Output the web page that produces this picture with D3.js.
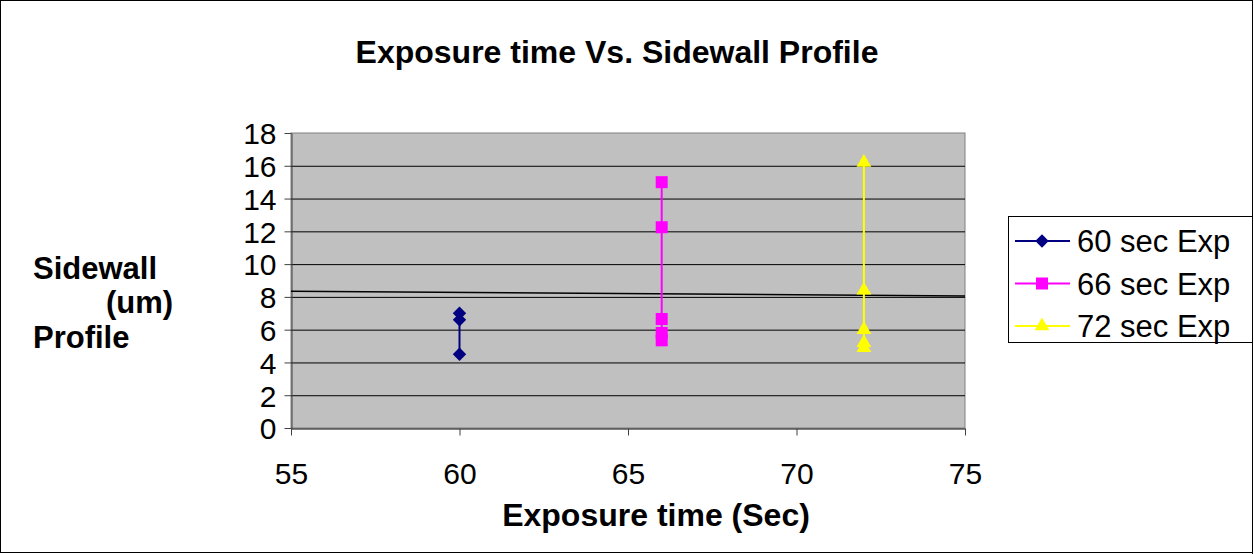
<!DOCTYPE html>
<html>
<head>
<meta charset="utf-8">
<script src="https://cdn.jsdelivr.net/npm/d3@7"></script>
<style>
	body { margin: 0; background: #fff; }
	svg { display: block; font-family: "Liberation Sans", Arial, sans-serif; }
</style>
</head>
<body>
<div id="chart"><svg width="1254" height="554"></svg></div>
<script>
// data
var seriesNames = ['60 sec Exp', '66 sec Exp', '72 sec Exp'];
var exposure = [60, 66, 72];
var profile60 = [7.0, 6.6, 4.5];
var profile66 = [15.0, 12.25, 6.65, 5.8, 5.35];
var profile72 = [16.2, 8.4, 6.0, 5.2, 4.9];
var trendX = [55, 75];
var trendY = [8.35, 8.05];
var xTicks = [55, 60, 65, 70, 75];
var yTicks = [0, 2, 4, 6, 8, 10, 12, 14, 16, 18];
var colors = ['#000080', '#ff00ff', '#ffff00'];
var shapes = ['diamond', 'square', 'triangle'];

var series = [profile60, profile66, profile72].map(function(vals, i) {
	return {
		name: seriesNames[i],
		color: colors[i],
		shape: shapes[i],
		points: vals.map(function(v) { return { x: exposure[i], y: v }; })
	};
});

// marker path + rotation per shape
function markPath(shape) {
	if (shape === 'diamond') return d3.symbol().type(d3.symbolSquare).size(90)();
	if (shape === 'square') return d3.symbol().type(d3.symbolSquare).size(144)();
	return d3.symbol().type(d3.symbolTriangle).size(95)();
}
function markRot(shape) { return shape === 'diamond' ? ' rotate(45)' : ''; }

var svg = d3.select('#chart > svg');
var plot = { left: 291, right: 965, top: 133, bottom: 428 };

var xScale = d3.scaleLinear().domain([55, 75]).range([plot.left, plot.right]);
var yScale = d3.scaleLinear().domain([0, 18]).range([plot.bottom, plot.top]);

// outer frame
svg.append('rect')
	.attr('x', 0.5).attr('y', 0.5)
	.attr('width', 1252).attr('height', 552)
	.attr('fill', '#fff').attr('stroke', '#000');

function label(x, y, txt, size, bold, anchor) {
	return svg.append('text')
		.attr('x', x).attr('y', y)
		.attr('text-anchor', anchor || 'start')
		.style('font-size', size + 'px')
		.style('font-weight', bold ? 'bold' : 'normal')
		.attr('fill', '#000')
		.text(txt);
}

// plot background
svg.append('rect')
	.attr('x', plot.left).attr('y', plot.top)
	.attr('width', plot.right - plot.left).attr('height', plot.bottom - plot.top)
	.attr('fill', '#c0c0c0').attr('stroke', '#808080');

// grid
svg.append('g').selectAll('line')
	.data(yTicks.filter(function(d) { return d > 0 && d < 18; }))
	.enter().append('line')
	.attr('x1', plot.left).attr('x2', plot.right)
	.attr('y1', function(d) { return yScale(d) + 0.5; })
	.attr('y2', function(d) { return yScale(d) + 0.5; })
	.attr('stroke', '#000').attr('stroke-width', 1);

// axes
var yAxis = svg.append('g')
	.attr('transform', 'translate(' + (plot.left + 0.5) + ',0)')
	.call(d3.axisLeft(yScale).tickValues(yTicks).tickSize(7).tickSizeOuter(0).tickPadding(8));
yAxis.select('.domain').attr('stroke', '#404040');
yAxis.selectAll('.tick line').attr('stroke', '#404040');
yAxis.selectAll('.tick text')
	.attr('dy', '0.36em')
	.style('font-size', '30px').style('font-family', '"Liberation Sans", Arial, sans-serif')
	.attr('fill', '#000');

var xAxis = svg.append('g')
	.attr('transform', 'translate(0,' + (plot.bottom + 0.5) + ')')
	.call(d3.axisBottom(xScale).tickValues(xTicks).tickSize(7).tickSizeOuter(0).tickPadding(27));
xAxis.select('.domain').attr('stroke', '#000');
xAxis.selectAll('.tick line').attr('stroke', '#404040');
xAxis.selectAll('.tick text')
	.style('font-size', '30px').style('font-family', '"Liberation Sans", Arial, sans-serif')
	.attr('fill', '#000');

// trend line
svg.append('line')
	.attr('x1', xScale(trendX[0])).attr('y1', yScale(trendY[0]))
	.attr('x2', xScale(trendX[1])).attr('y2', yScale(trendY[1]))
	.attr('stroke', '#000').attr('stroke-width', 1.5);

// series
var line = d3.line()
	.x(function(d) { return xScale(d.x); })
	.y(function(d) { return yScale(d.y); });

var groups = svg.append('g').selectAll('g.series')
	.data(series).enter().append('g').attr('class', 'series');
groups.append('path')
	.attr('d', function(d) { return line(d.points); })
	.attr('fill', 'none')
	.attr('stroke', function(d) { return d.color; })
	.attr('stroke-width', 2);
groups.selectAll('path.mark')
	.data(function(d) { return d.points.map(function(p) { return { p: p, s: d }; }); })
	.enter().append('path').attr('class', 'mark')
	.attr('transform', function(d) { return 'translate(' + [xScale(d.p.x), yScale(d.p.y)] + ')' + markRot(d.s.shape); })
	.attr('d', function(d) { return markPath(d.s.shape); })
	.attr('fill', function(d) { return d.s.color; });

// legend
var legend = svg.append('g');
legend.append('rect')
	.attr('x', 1008.5).attr('y', 216.5)
	.attr('width', 260).attr('height', 126)
	.attr('fill', '#fff').attr('stroke', '#000');
series.forEach(function(s, i) {
	var y = 241 + i * 42.5;
	legend.append('line')
		.attr('x1', 1015).attr('x2', 1070)
		.attr('y1', y).attr('y2', y)
		.attr('stroke', s.color).attr('stroke-width', 2);
	legend.append('path')
		.attr('transform', 'translate(' + [1042, y] + ')' + markRot(s.shape))
		.attr('d', markPath(s.shape))
		.attr('fill', s.color);
	label(1077, y + 11, s.name, 31, false);
});
// frame right edge over the legend
svg.append('line')
	.attr('x1', 1252.5).attr('x2', 1252.5).attr('y1', 0).attr('y2', 554)
	.attr('stroke', '#000');
svg.append('rect').attr('x', 1253).attr('y', 0).attr('width', 1).attr('height', 554).attr('fill', '#fff');

// titles
label(617, 63, 'Exposure time Vs. Sidewall Profile', 32, true, 'middle');
label(656, 526, 'Exposure time (Sec)', 32, true, 'middle');
label(33, 279, 'Sidewall', 31, true);
label(106, 313, '(um)', 31, true);
label(33, 348, 'Profile', 31, true);
</script>
</body>
</html>
